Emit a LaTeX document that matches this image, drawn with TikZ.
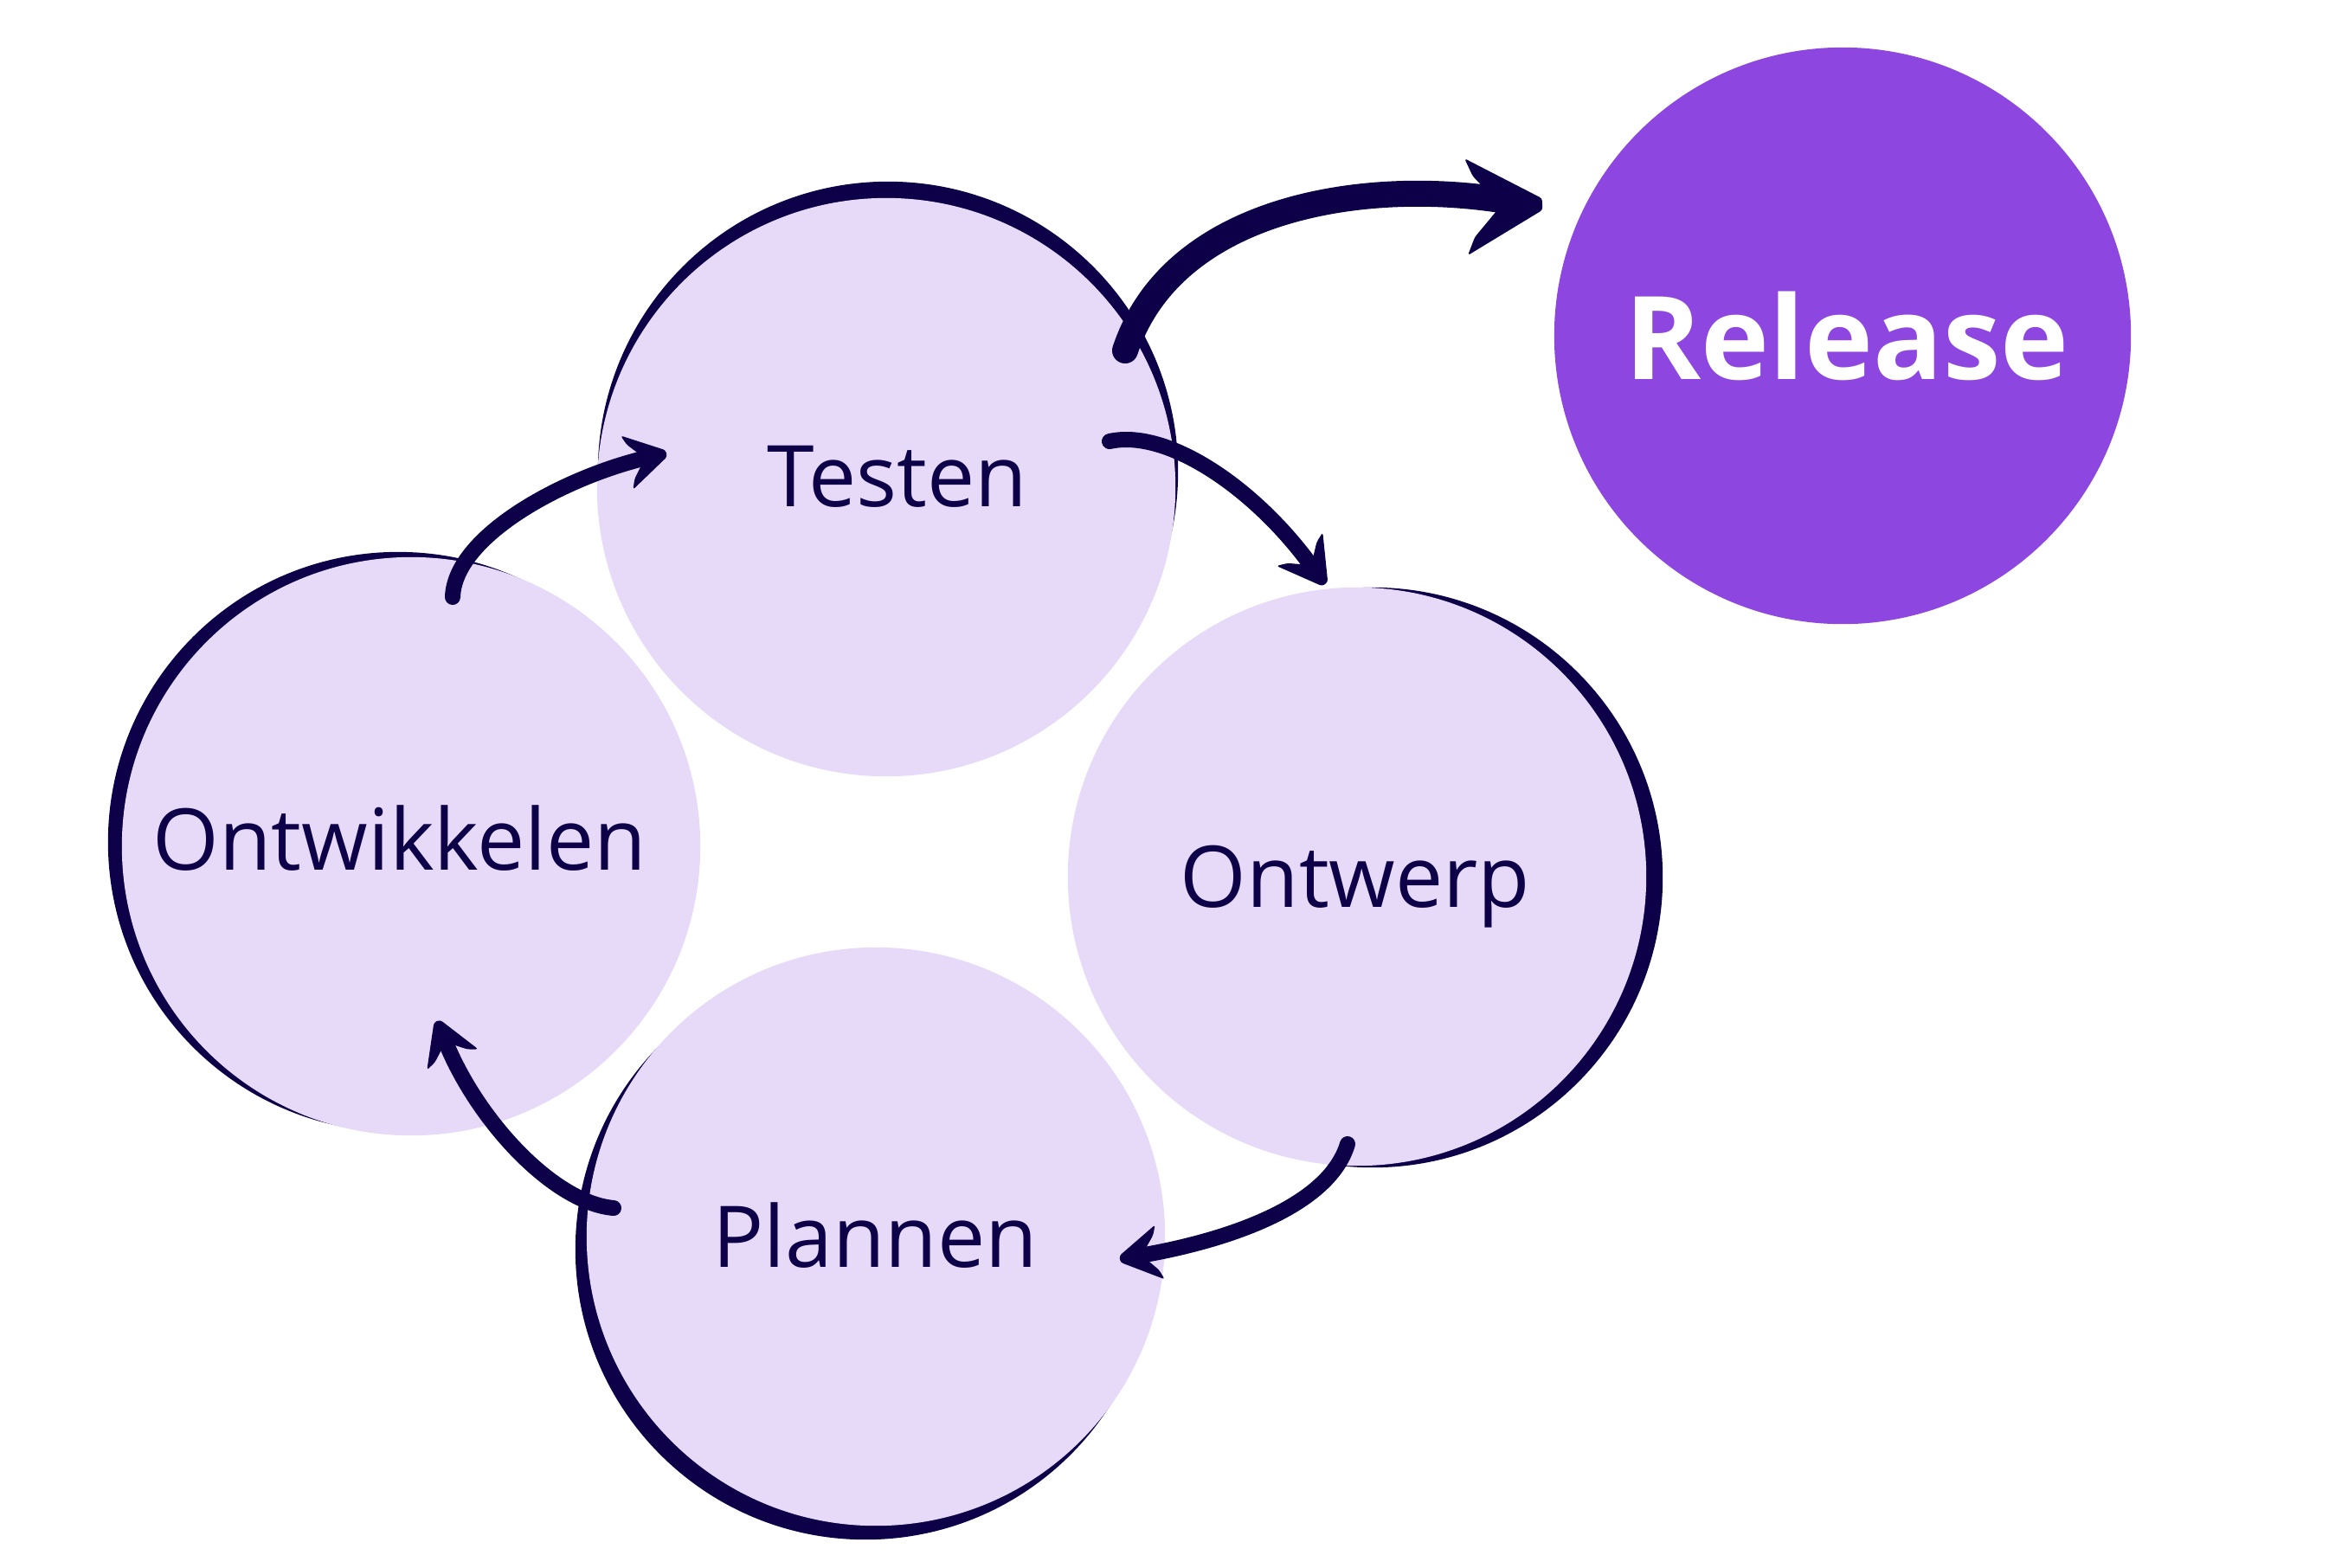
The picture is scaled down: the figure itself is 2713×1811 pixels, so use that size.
\documentclass[tikz,border=0pt]{standalone}
\usepackage{fontspec}
\setmainfont{Open Sans}
\definecolor{navy}{HTML}{0D0048}
\definecolor{lav}{HTML}{E7DAF8}
\definecolor{purp}{HTML}{8D47E0}
% brush-like arrow head: #1 tip, #2 direction angle, #3 length, #4 half width
\newcommand{\brushhead}[4]{%
  \fill[navy, shift={(#1)}, rotate=#2, rounded corners=0.03cm]
    (0,-0.12*#4) -- (-#3,-#4) -- (-0.9*#3,-0.63*#4) -- (-0.6*#3,-0.1*#4)
    -- (-0.6*#3,0.1*#4) -- (-0.9*#3,0.63*#4) -- (-#3,#4) -- (0,0.12*#4) -- cycle;}
\begin{document}
\begin{tikzpicture}[x=0.01cm,y=-0.01cm,
  stage/.style={circle, fill=lav, draw=none, minimum size=6.68cm, inner sep=0pt},
  rim/.style={circle, fill=navy, draw=none, minimum size=6.70cm, inner sep=0pt},
  lbl/.style={anchor=base, inner sep=0pt, text=navy, font=\fontsize{28}{34}\selectfont},
  flow/.style={draw=navy, line width=0.18cm, line cap=round},
  bigflow/.style={draw=navy, line width=0.3cm, line cap=round},
]
\useasboundingbox[fill=white] (0,0) rectangle (2713,1811);

% circles with hand-drawn rims
\node[rim]   (testenRim)  at (1026,545)  {};
\node[stage] (testen)     at (1024,563)  {};
\node[rim]   (ontwRim)    at (460,973)   {};
\node[stage] (ontw)       at (475,978)   {};
\node[rim]   (ontwerpRim) at (1586,1014) {};
\node[stage] (ontwerp)    at (1568,1013) {};
\node[rim]   (plannenRim) at (1000,1444) {};
\node[stage] (plannen)    at (1012,1429) {};
\node[circle, fill=purp, draw=none, minimum size=6.66cm, inner sep=0pt] (release) at (2129,388) {};

% labels
\node[lbl] (tTesten)  at (1037,585)  {Testen};
\node[lbl] (tOntw)    at (462,1005)  {Ontwikkelen};
\node[lbl] (tOntwerp) at (1566,1048) {Ontwerp};
\node[lbl] (tPlannen) at (1011,1464) {Plannen};
\node[lbl, text=white, font=\bfseries\fontsize{38}{46}\selectfont] (tRelease) at (2134,438) {Release};

% connector end points (start, shaft end, tip)
\coordinate (a1s) at (1300,405);  \coordinate (a1m) at (1740,232);  \coordinate (a1t) at (1782,236);
\coordinate (a2s) at (1282,510);  \coordinate (a2m) at (1516,655);  \coordinate (a2t) at (1531,675);
\coordinate (a3s) at (1557,1322); \coordinate (a3m) at (1317,1451); \coordinate (a3t) at (1294,1455);
\coordinate (a4s) at (709,1396);  \coordinate (a4m) at (514,1202);  \coordinate (a4t) at (505,1180);
\coordinate (a5s) at (523,690);   \coordinate (a5m) at (747,529);   \coordinate (a5t) at (770,524);

% Testen -> Release
\draw[bigflow] (a1s) .. controls (1355,240) and (1575,205) .. (a1m);
\brushhead{a1t}{2}{88}{56}
% Testen -> Ontwerp
\draw[flow] (a2s) .. controls (1350,495) and (1452,566) .. (a2m);
\brushhead{a2t}{-54}{50}{33}
% Ontwerp -> Plannen
\draw[flow] (a3s) .. controls (1535,1395) and (1416,1434) .. (a3m);
\brushhead{a3t}{190}{47}{32}
% Plannen -> Ontwikkelen
\draw[flow] (a4s) .. controls (640,1390) and (551,1295) .. (a4m);
\brushhead{a4t}{112}{48}{32}
% Ontwikkelen -> Testen
\draw[flow] (a5s) .. controls (525,620) and (650,552) .. (a5m);
\brushhead{a5t}{13}{47}{32}
\end{tikzpicture}
\end{document}
